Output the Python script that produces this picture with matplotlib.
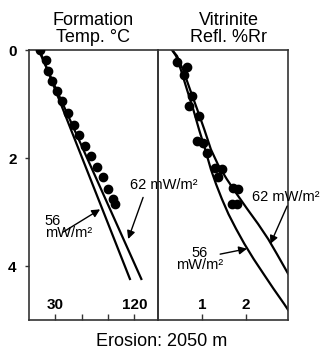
import matplotlib
matplotlib.use("Agg")
from matplotlib import pyplot as plt
import numpy as np

plt.rcParams['font.family'] = ['Liberation Sans', 'DejaVu Sans']

# formation temperature data (deg C vs depth km)
temp_obs = [12.5, 19, 22, 26.6, 32.3, 38, 44.8, 51.3, 57.4, 63.9, 70.4, 77.2, 84.8, 90.5, 96.2, 98.1]
temp_depth = [0.0, 0.18, 0.38, 0.57, 0.75, 0.95, 1.17, 1.38, 1.58, 1.78, 1.96, 2.16, 2.36, 2.58, 2.76, 2.85]

# model temperature lines
t56_depth = [0.0, 4.24]
t56_temp = [12, 115]
t62_depth = [0.0, 4.24]
t62_temp = [11, 128]

# vitrinite reflectance data
ro_obs = [0.43, 0.65, 0.58, 0.77, 0.71, 0.94, 0.88, 1.03, 1.11, 1.30, 1.45, 1.37, 1.71, 1.82, 1.68, 1.80]
ro_depth = [0.22, 0.31, 0.46, 0.86, 1.04, 1.23, 1.69, 1.72, 1.90, 2.18, 2.21, 2.36, 2.55, 2.58, 2.85, 2.85]

# model reflectance curves
r56_depth = [0.00, 0.11, 0.37, 0.74, 1.10, 1.47, 1.84, 2.21, 2.49, 2.76, 3.04, 3.31,
             3.59, 3.87, 4.14, 4.42, 4.70, 4.81]
r56_ro = [0.32, 0.41, 0.52, 0.66, 0.80, 0.93, 1.07, 1.20, 1.32, 1.45, 1.60, 1.77,
          1.96, 2.17, 2.39, 2.62, 2.86, 2.95]
r62_depth = [0.00, 0.11, 0.37, 0.74, 1.10, 1.47, 1.84, 2.12, 2.39, 2.67, 2.95, 3.22,
             3.50, 3.78, 4.14]
r62_ro = [0.32, 0.43, 0.57, 0.73, 0.89, 1.05, 1.20, 1.36, 1.56, 1.79, 2.03, 2.27,
          2.50, 2.70, 2.95]

depth_ticks = [0, 2, 4]
temp_ticks = [30, 60, 90, 120]
temp_labels = ['30', '', '', '120']
ro_ticks = [1, 2]
ro_labels = ['1', '2']


def style_axis(ax, xticks, xlabels):
    ax.set_ylim(5, 0)
    for s in ax.spines.values():
        s.set_linewidth(1.2)
        s.set_color('#333333')
    ax.set_xticks(xticks)
    ax.set_xticklabels([])
    ax.tick_params(axis='x', direction='in', length=4, width=1, color='#333333')
    tr = ax.get_xaxis_transform()
    for t, lab in zip(xticks, xlabels):
        ax.text(t, 0.055, lab, transform=tr, ha='center', va='center',
                fontsize=11, fontweight='bold')
    ax.patch.set_visible(False)


def main():
    fig = plt.figure(figsize=(3.23, 3.54), dpi=100)
    ax1 = fig.add_axes([0.0898, 0.096, 0.3994, 0.7627])
    ax2 = fig.add_axes([0.4892, 0.096, 0.4025, 0.7627])

    # temperature panel
    ax1.set_xlim(0, 147)
    style_axis(ax1, temp_ticks, temp_labels)
    ax1.set_yticks(depth_ticks)
    ax1.set_yticklabels([str(d) for d in depth_ticks], fontsize=11, fontweight='bold')
    ax1.tick_params(axis='y', direction='out', length=3, width=1, pad=6, color='#333333')
    ax1.plot(t56_temp, t56_depth, color='k', lw=1.6)
    ax1.plot(t62_temp, t62_depth, color='k', lw=1.6)
    ax1.plot(temp_obs, temp_depth, 'o', color='k', ms=6, zorder=3)

    arrow = dict(arrowstyle='-|>', color='k', lw=1, mutation_scale=12, shrinkA=0, shrinkB=0)
    ax1.annotate('', xy=(113, 3.50), xytext=(130, 2.73), arrowprops=arrow)
    ax1.text(115, 2.50, '62 mW/m²', fontsize=10.5, ha='left', va='center')
    ax1.annotate('', xy=(81, 2.95), xytext=(39, 3.37), arrowprops=arrow)
    ax1.text(18, 3.28, '56\nmW/m²', fontsize=10.5, ha='left', va='center', linespacing=0.85)

    # vitrinite panel
    ax2.set_xlim(0, 2.95)
    style_axis(ax2, ro_ticks, ro_labels)
    ax2.set_yticks([])
    ax2.plot(r56_ro, r56_depth, color='k', lw=1.6)
    ax2.plot(r62_ro, r62_depth, color='k', lw=1.6)
    ax2.plot(ro_obs, ro_depth, 'o', color='k', ms=6, zorder=3)
    ax2.annotate('', xy=(2.55, 3.59), xytext=(2.93, 2.89), arrowprops=arrow)
    ax2.text(2.14, 2.73, '62 mW/m²', fontsize=10.5, ha='left', va='center')
    ax2.annotate('', xy=(2.02, 3.68), xytext=(1.41, 3.78), arrowprops=arrow)
    ax2.text(0.95, 3.87, '56\nmW/m²', fontsize=10.5, ha='center', va='center', linespacing=0.85)

    # titles
    fig.text(93.5 / 323, 1 - 29 / 354, 'Formation\nTemp. °C', ha='center', va='center',
             fontsize=13, linespacing=0.95)
    fig.text(229 / 323, 1 - 29 / 354, 'Vitrinite\nRefl. %Rr', ha='center', va='center',
             fontsize=13, linespacing=0.95)
    fig.text(162 / 323, 1 - 342 / 354, 'Erosion: 2050 m', ha='center', va='center', fontsize=13)

    fig.savefig('out.png', dpi=100)


if __name__ == "__main__":
    main()
